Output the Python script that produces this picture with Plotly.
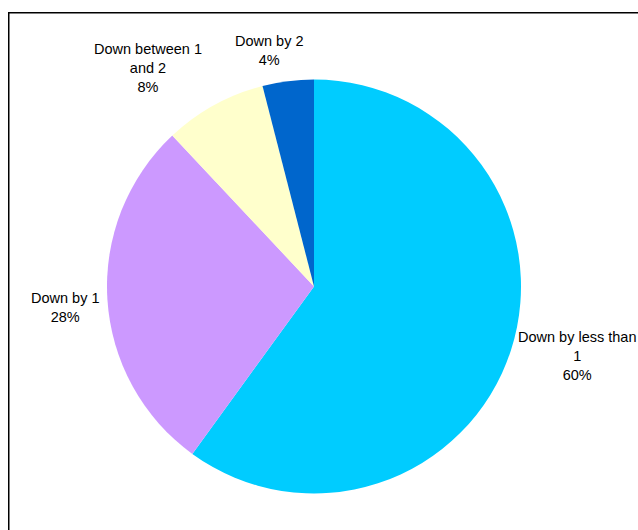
import plotly.graph_objects as go

W, H = 638, 530

categories = ["Down by less than 1", "Down by 1", "Down between 1 and 2", "Down by 2"]
values = [60, 28, 8, 4]
label_texts = ["Down by less than<br>1<br>60%", "Down by 1<br>28%", "Down between 1<br>and 2<br>8%", "Down by 2<br>4%"]
colors = ["#00CCFF", "#CC99FF", "#FFFFCC", "#0066CC"]

# label anchor centres (pixels)
label_pos = [(577, 356), (65, 307), (148, 68), (269, 51)]

cx, cy, r = 314, 286.5, 207

fig = go.Figure(go.Pie(
    labels=categories,
    values=values,
    marker=dict(colors=colors, line=dict(width=0)),
    sort=False,
    direction="clockwise",
    rotation=0,
    textinfo="none",
    hoverinfo="label+percent",
    showlegend=False,
    domain=dict(x=[(cx - r) / W, (cx + r) / W], y=[1 - (cy + r) / H, 1 - (cy - r) / H]),
))

annotations = []
for txt, (px, py) in zip(label_texts, label_pos):
    annotations.append(dict(
        text=txt, x=px / W, y=1 - py / H, xref="paper", yref="paper",
        xanchor="center", yanchor="middle", showarrow=False, align="center",
        font=dict(family="Liberation Sans, Arial, sans-serif", size=14.5, color="#000000"),
    ))

fig.update_layout(
    width=W, height=H,
    margin=dict(l=0, r=0, t=0, b=0),
    paper_bgcolor="white", plot_bgcolor="white",
    annotations=annotations,
    shapes=[dict(type="rect", xref="paper", yref="paper",
                 x0=8.75 / W, x1=1.05, y0=-0.05, y1=1 - 12.75 / H,
                 line=dict(color="black", width=1.5), fillcolor="rgba(0,0,0,0)")],
)

fig.write_html(
    "out.html",
    config={"displayModeBar": False},
    post_script="document.body.style.margin='0px'; document.body.style.overflow='hidden';",
)
